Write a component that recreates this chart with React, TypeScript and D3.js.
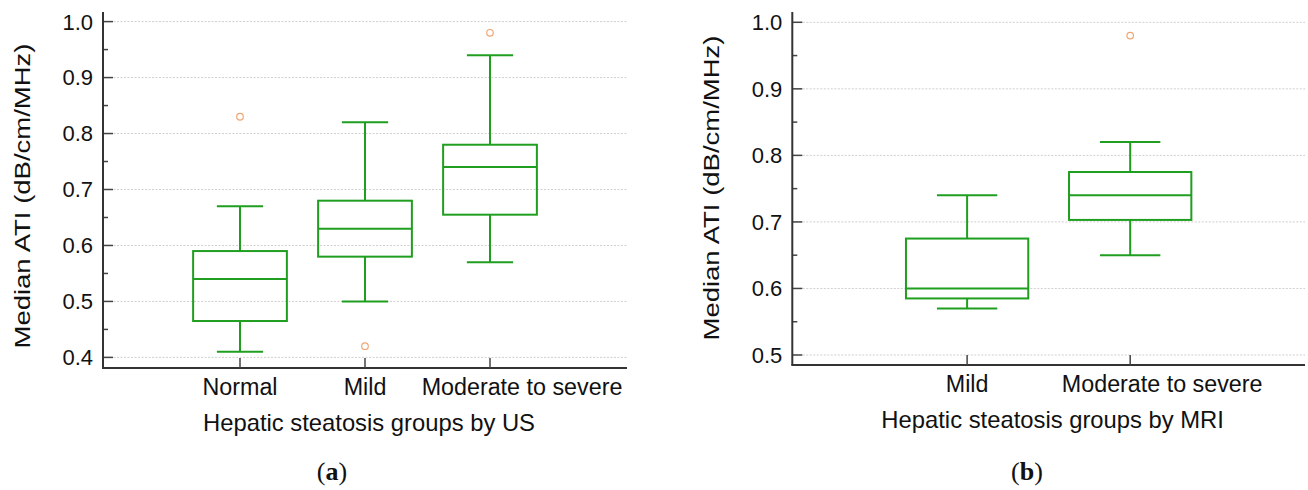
import React from 'react';
import * as d3 from 'd3';

// panel (a): groups by US
const usGroups = ['Normal', 'Mild', 'Moderate to severe'];
const usWhiskerLow = [0.41, 0.5, 0.57];
const usQ1 = [0.465, 0.58, 0.655];
const usMedian = [0.54, 0.63, 0.74];
const usQ3 = [0.59, 0.68, 0.78];
const usWhiskerHigh = [0.67, 0.82, 0.94];
const usOutliers = [[0.83], [0.42], [0.98]];
const usTicks = [0.4, 0.5, 0.6, 0.7, 0.8, 0.9, 1.0];

// panel (b): groups by MRI
const mriGroups = ['Mild', 'Moderate to severe'];
const mriWhiskerLow = [0.57, 0.65];
const mriQ1 = [0.585, 0.703];
const mriMedian = [0.6, 0.74];
const mriQ3 = [0.675, 0.775];
const mriWhiskerHigh = [0.74, 0.82];
const mriOutliers = [[], [0.98]];
const mriTicks = [0.5, 0.6, 0.7, 0.8, 0.9, 1.0];

const GREEN = '#1f9e1f';
const FONT = '"Liberation Sans", Arial, sans-serif';

type PanelProps = {
  groups: string[];
  lo: number[];
  q1: number[];
  med: number[];
  q3: number[];
  hi: number[];
  outliers: number[][];
  ticks: number[];
  left: number;
  right: number;
  top: number;
  bottom: number;
  yRange: [number, number];
  padding: number;
  xTitle: string;
  yTitleY: number;
  caption: string;
  captionX: number;
};

const Panel = (p: PanelProps) => {
  const y = d3
    .scaleLinear()
    .domain([p.ticks[0], p.ticks[p.ticks.length - 1]])
    .range(p.yRange);
  const x = d3.scalePoint<string>().domain(p.groups).range([p.left, p.right]).padding(p.padding);
  const step = x.step();
  const boxW = step * 0.75;
  const capW = step * 0.37;
  const minor = p.ticks.slice(0, -1).map((t) => t + 0.05);
  const midX = (p.left + p.right) / 2;

  return (
    <g>
      {/* grid */}
      {p.ticks.map((t) => (
        <line
          key={'g' + t}
          x1={p.left}
          x2={p.right}
          y1={y(t)}
          y2={y(t)}
          stroke="#cfcfcf"
          strokeWidth={1}
          strokeDasharray="2,1.5"
        />
      ))}
      {/* y ticks */}
      {p.ticks.map((t) => (
        <g key={'t' + t}>
          <line x1={p.left} x2={p.left + 10} y1={y(t)} y2={y(t)} stroke="#444" strokeWidth={1.5} />
          <text
            x={p.left - 10}
            y={y(t)}
            dy="0.36em"
            textAnchor="end"
            fontSize={22}
            fontFamily={FONT}
            fill="#111"
          >
            {d3.format('.1f')(t)}
          </text>
        </g>
      ))}
      {minor.map((t) => (
        <line key={'m' + t} x1={p.left} x2={p.left + 5} y1={y(t)} y2={y(t)} stroke="#444" strokeWidth={1.5} />
      ))}
      {/* axes */}
      <line x1={p.left} x2={p.left} y1={p.top} y2={p.bottom} stroke="#333" strokeWidth={2} />
      <line x1={p.left - 1} x2={p.right} y1={p.bottom} y2={p.bottom} stroke="#333" strokeWidth={2} />
      {p.groups.map((g, i) => {
        // long last label is pushed right so it clears its neighbour
        const shift = i === p.groups.length - 1 && g.length > 10 ? 32 : 0;
        return (
          <g key={'x' + g}>
            <line x1={x(g)} x2={x(g)} y1={p.bottom} y2={p.bottom - 10} stroke="#444" strokeWidth={1.5} />
            <text
              x={(x(g) as number) + shift}
              y={p.bottom + 27}
              textAnchor="middle"
              fontSize={23.3}
              fontFamily={FONT}
              fill="#111"
            >
              {g}
            </text>
          </g>
        );
      })}
      {/* boxes */}
      {p.groups.map((g, i) => {
        const cx = x(g) as number;
        return (
          <g key={'b' + g} stroke={GREEN} strokeWidth={2} fill="none">
            <line x1={cx} x2={cx} y1={y(p.hi[i])} y2={y(p.q3[i])} />
            <line x1={cx} x2={cx} y1={y(p.q1[i])} y2={y(p.lo[i])} />
            <line x1={cx - capW / 2} x2={cx + capW / 2} y1={y(p.hi[i])} y2={y(p.hi[i])} />
            <line x1={cx - capW / 2} x2={cx + capW / 2} y1={y(p.lo[i])} y2={y(p.lo[i])} />
            <rect x={cx - boxW / 2} width={boxW} y={y(p.q3[i])} height={y(p.q1[i]) - y(p.q3[i])} />
            <line x1={cx - boxW / 2} x2={cx + boxW / 2} y1={y(p.med[i])} y2={y(p.med[i])} />
            {p.outliers[i].map((o) => (
              <circle key={o} cx={cx} cy={y(o)} r={3.3} stroke="#f0a673" strokeWidth={1.2} />
            ))}
          </g>
        );
      })}
      {/* titles */}
      <text x={midX + 4} y={p.bottom + 63} textAnchor="middle" fontSize={23.8} fontFamily={FONT} fill="#111">
        {p.xTitle}
      </text>
      <text
        transform={`translate(${p.left - 73},${p.yTitleY}) rotate(-90)`}
        textAnchor="middle"
        fontSize={22.5}
        fontFamily={FONT}
        fill="#111"
        textLength={305}
        lengthAdjust="spacingAndGlyphs"
      >
        Median ATI (dB/cm/MHz)
      </text>
      <text
        x={p.captionX}
        y={480}
        textAnchor="middle"
        fontSize={26}
        fontFamily='"Liberation Serif", "DejaVu Serif", serif'
        fill="#111"
      >
        (<tspan fontWeight="bold">{p.caption}</tspan>)
      </text>
    </g>
  );
};

export default function App() {
  return (
    <svg
      width={1308}
      height={490}
      style={{ position: 'absolute', left: 0, top: 0, background: '#fff' }}
    >
      <Panel
        groups={usGroups}
        lo={usWhiskerLow}
        q1={usQ1}
        med={usMedian}
        q3={usQ3}
        hi={usWhiskerHigh}
        outliers={usOutliers}
        ticks={usTicks}
        left={103}
        right={627}
        top={12}
        bottom={368}
        yRange={[357.4, 21.6]}
        padding={1.096}
        xTitle="Hepatic steatosis groups by US"
        yTitleY={196}
        caption="a"
        captionX={332}
      />
      <Panel
        groups={mriGroups}
        lo={mriWhiskerLow}
        q1={mriQ1}
        med={mriMedian}
        q3={mriQ3}
        hi={mriWhiskerHigh}
        outliers={mriOutliers}
        ticks={mriTicks}
        left={792.3}
        right={1305}
        top={12}
        bottom={365}
        yRange={[355, 22.3]}
        padding={1.072}
        xTitle="Hepatic steatosis groups by MRI"
        yTitleY={188}
        caption="b"
        captionX={1027}
      />
    </svg>
  );
}
